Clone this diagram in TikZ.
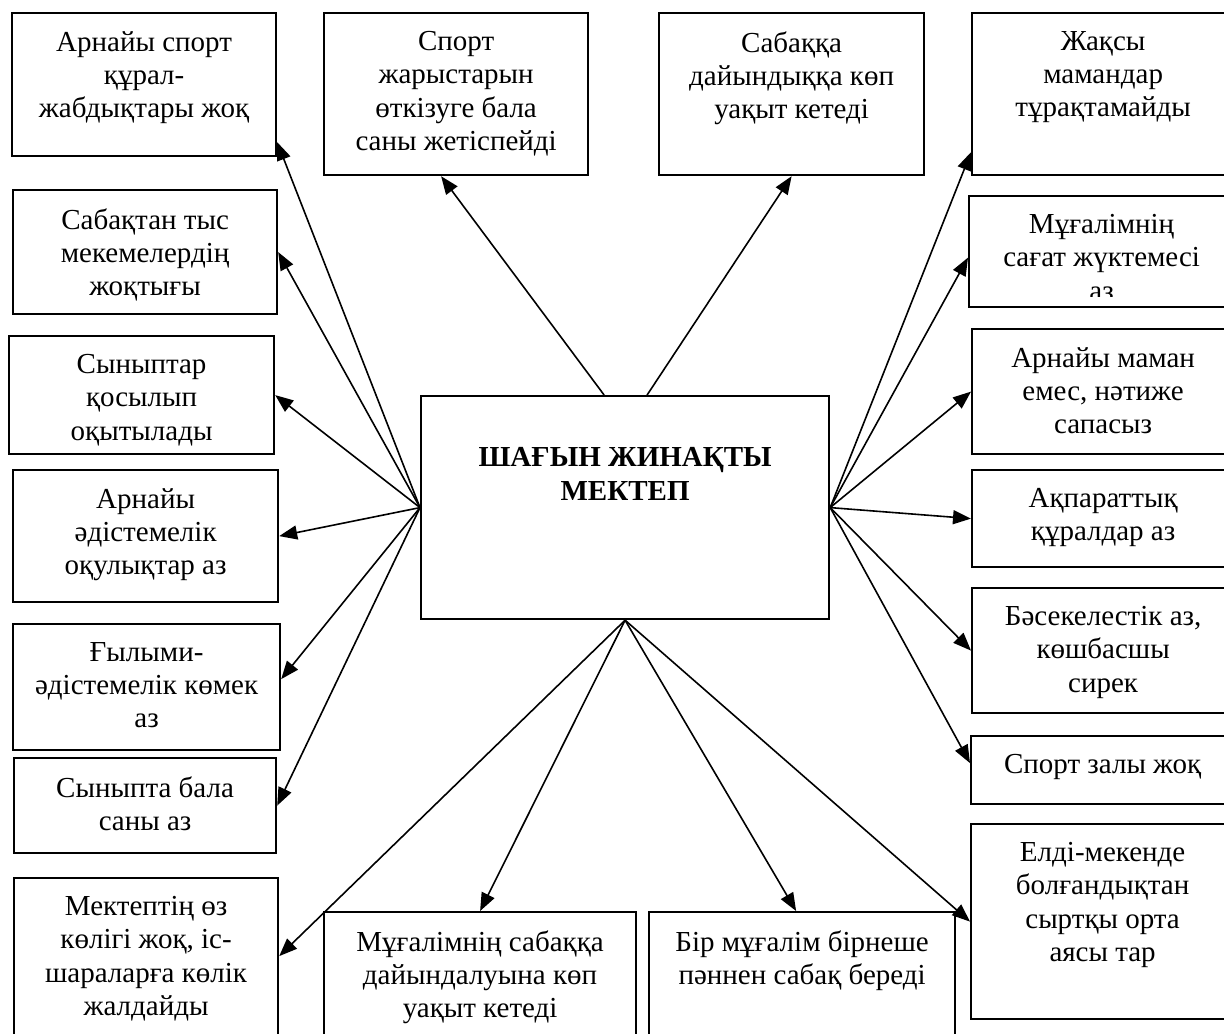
\documentclass[tikz,border=0pt]{standalone}
\usepackage{fontspec}
\setmainfont{Liberation Serif}
\usetikzlibrary{arrows.meta, calc, positioning}

\tikzset{
  box/.style={draw, line width=1.1pt, inner sep=0pt, anchor=north west},
  txt/.style={align=center, inner sep=0pt, font=\fontsize{14.5pt}{16.6pt}\selectfont},
  arr/.style={line width=0.8pt, -{Triangle[length=9pt,width=7pt]}}
}

\begin{document}
\begin{tikzpicture}[x=0.5pt, y=-0.5pt]
  \useasboundingbox (0,0) rectangle (1224,1033);
  \clip (0,0) rectangle (1224,1033);

  % Central box
  \node[box, minimum width=204pt, minimum height=111.5pt] (school) at (420,395) {};
  \node[txt, font=\fontsize{14.5pt}{17pt}\selectfont\bfseries, below=26pt] (schooltxt) at (school.north) {ШАҒЫН ЖИНАҚТЫ\\МЕКТЕП};

  % Left column
  \node[box, minimum width=132pt, minimum height=71.5pt] (equip) at (11,12) {};
  \node[txt, below=9.5pt] (equiptxt) at (equip.north) {Арнайы спорт\\құрал-\\жабдықтары жоқ};
  \node[box, minimum width=132pt, minimum height=62pt] (clubs) at (12,189) {};
  \node[txt, below=9.5pt] (clubstxt) at (clubs.north) {Сабақтан тыс\\мекемелердің\\жоқтығы};
  \node[box, minimum width=132.5pt, minimum height=59pt] (merged) at (8,335) {};
  \node[txt, below=9.5pt] (mergedtxt) at (merged.north) {Сыныптар\\қосылып\\оқытылады};
  \node[box, minimum width=132.5pt, minimum height=66pt] (books) at (12,469) {};
  \node[txt, below=9.5pt] (bookstxt) at (books.north) {Арнайы\\әдістемелік\\оқулықтар аз};
  \node[box, minimum width=133.5pt, minimum height=63pt] (help) at (12,623) {};
  \node[txt, below=9.5pt] (helptxt) at (help.north) {Ғылыми-\\әдістемелік көмек\\аз};
  \node[box, minimum width=131pt, minimum height=47.5pt] (fewkids) at (13,757) {};
  \node[txt, below=9.5pt] (fewkidstxt) at (fewkids.north) {Сыныпта бала\\саны аз};
  \node[box, minimum width=132pt, minimum height=84pt] (transport) at (13,877) {};
  \node[txt, below=9.5pt] (transporttxt) at (transport.north) {Мектептің өз\\көлігі жоқ, іс-\\шараларға көлік\\жалдайды};

  % Top row
  \node[box, minimum width=132pt, minimum height=81pt] (contests) at (323,12) {};
  \node[txt, below=9.5pt] (conteststxt) at (contests.north) {Спорт\\жарыстарын\\өткізуге бала\\саны жетіспейді};
  \node[box, minimum width=132.5pt, minimum height=81pt] (lessons) at (658,12) {};
  \node[txt, below=9.5pt] (lessonstxt) at (lessons.north) {Сабаққа\\дайындыққа көп\\уақыт кетеді};

  % Bottom row
  \node[box, minimum width=156pt, minimum height=67pt] (prep) at (323,911) {};
  \node[txt, below=9.5pt] (preptxt) at (prep.north) {Мұғалімнің сабаққа\\дайындалуына көп\\уақыт кетеді};
  \node[box, minimum width=153pt, minimum height=67pt] (subjects) at (648,911) {};
  \node[txt, below=9.5pt] (subjectstxt) at (subjects.north) {Бір мұғалім бірнеше\\пәннен сабақ береді};

  % Right column
  \node[box, minimum width=131pt, minimum height=81pt] (staff) at (971,12) {};
  \node[txt, below=9.5pt] (stafftxt) at (staff.north) {Жақсы\\мамандар\\тұрақтамайды};
  \node[box, minimum width=132.5pt, minimum height=55.5pt] (hours) at (968,195) {};
  \begin{scope}
    \clip (hours.north west) rectangle ($(hours.south east)+(0,-12)$);
    \node[txt, below=9.5pt] (hourstxt) at (hours.north) {Мұғалімнің\\сағат жүктемесі\\аз};
  \end{scope}
  \node[box, minimum width=131pt, minimum height=62.5pt] (quality) at (971,328) {};
  \node[txt, below=9.5pt] (qualitytxt) at (quality.north) {Арнайы маман\\емес, нәтиже\\сапасыз};
  \node[box, minimum width=131pt, minimum height=48.5pt] (media) at (971,469) {};
  \node[txt, below=9.5pt] (mediatxt) at (media.north) {Ақпараттық\\құралдар аз};
  \node[box, minimum width=131pt, minimum height=62.5pt] (rivals) at (971,587) {};
  \node[txt, below=9.5pt] (rivalstxt) at (rivals.north) {Бәсекелестік аз,\\көшбасшы\\сирек};
  \node[box, minimum width=131.5pt, minimum height=34pt] (gym) at (970,735) {};
  \node[txt, below=9.5pt] (gymtxt) at (gym.north) {Спорт залы жоқ};
  \node[box, minimum width=131.5pt, minimum height=97.5pt] (village) at (970,823) {};
  \node[txt, below=9.5pt] (villagetxt) at (village.north) {Елді-мекенде\\болғандықтан\\сыртқы орта\\аясы тар};

  % Arrows to the left column
  \draw[arr] (school.west) -- ($(equip.south east)+(0,-15)$);
  \draw[arr] (school.west) -- (clubs.east);
  \draw[arr] (school.west) -- (merged.east);
  \draw[arr] (school.west) -- (books.east);
  \draw[arr] (school.west) -- ($(help.east)+(0,-8)$);
  \draw[arr] (school.west) -- (fewkids.east);

  % Arrows to the top row
  \draw[arr] ($(school.north)+(-21,0)$) -- ($(contests.south)+(-15,0)$);
  \draw[arr] ($(school.north)+(22,0)$) -- (lessons.south);

  % Arrows from the bottom side
  \draw[arr] (school.south) -- ($(transport.east)+(0,-6)$);
  \draw[arr] (school.south) -- (prep.north);
  \draw[arr] (school.south) -- ($(subjects.north)+(-6,0)$);
  \draw[arr] (school.south) -- (village.west);

  % Arrows to the right column
  \draw[arr] (school.east) -- ($(staff.south west)+(0,-24)$);
  \draw[arr] (school.east) -- ($(hours.west)+(0,6)$);
  \draw[arr] (school.east) -- (quality.west);
  \draw[arr] (school.east) -- (media.west);
  \draw[arr] (school.east) -- (rivals.west);
  \draw[arr] (school.east) -- ($(gym.west)+(0,-7)$);
\end{tikzpicture}
\end{document}
